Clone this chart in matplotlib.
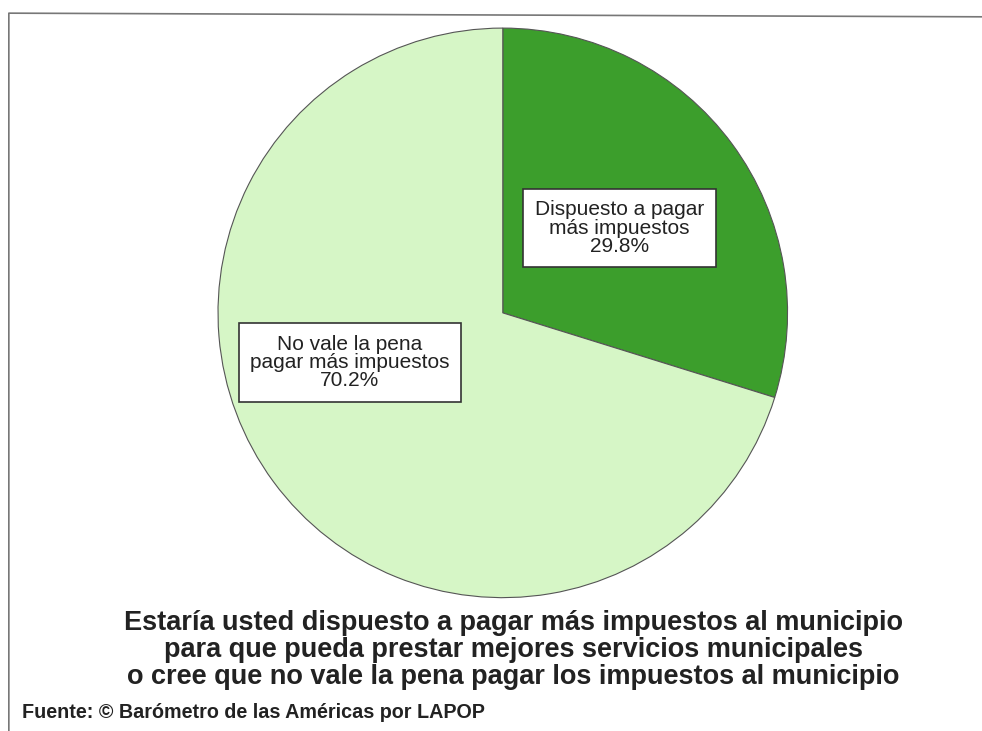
import numpy as np
import matplotlib.pyplot as plt
from matplotlib.lines import Line2D

plt.rcParams['font.family'] = ['Liberation Sans', 'DejaVu Sans']

labels = ["Dispuesto a pagar\nmás impuestos", "No vale la pena\npagar más impuestos"]
values = [29.8, 70.2]
colors = ['#3c9e2c', '#d6f6c6']
label_pos = [(0.41, 0.298), (-0.537, -0.175)]

title = ("Estaría usted dispuesto a pagar más impuestos al municipio\n"
         "para que pueda prestar mejores servicios municipales\n"
         "o cree que no vale la pena pagar los impuestos al municipio")
source = "Fuente: © Barómetro de las Américas por LAPOP"


def main():
    fig = plt.figure(figsize=(9.82, 7.31), dpi=100)
    ax = fig.add_axes([0.222, 0.182, 0.580, 0.780])
    ax.pie(values, colors=colors, startangle=90, counterclock=False,
           wedgeprops=dict(edgecolor='#555555', linewidth=0.8))
    ax.set_xlim(-1, 1)
    ax.set_ylim(-1, 1)
    ax.set_aspect('equal')
    ax.axis('off')

    for lab, val, (x, y) in zip(labels, values, label_pos):
        ax.text(x, y, "%s\n%.1f%%" % (lab, val), ha='center', va='center',
                fontsize=15, color='#222222', linespacing=0.95,
                bbox=dict(boxstyle='square,pad=0.55', fc='white', ec='#333333', lw=1.2))

    fig.text(0.523, 0.111, title, ha='center', va='center', fontsize=19.5,
             fontweight='bold', color='#222222', linespacing=1.04)
    fig.text(0.022, 0.025, source, ha='left', va='center', fontsize=14.2,
             fontweight='bold', color='#222222')

    # frame around the chart
    fig.add_artist(Line2D([0.009, 0.009, 1.0], [0.0, 0.982, 0.977],
                          transform=fig.transFigure, color='#777777', lw=1.2))

    plt.savefig('out.png', dpi=100)


if __name__ == '__main__':
    main()
